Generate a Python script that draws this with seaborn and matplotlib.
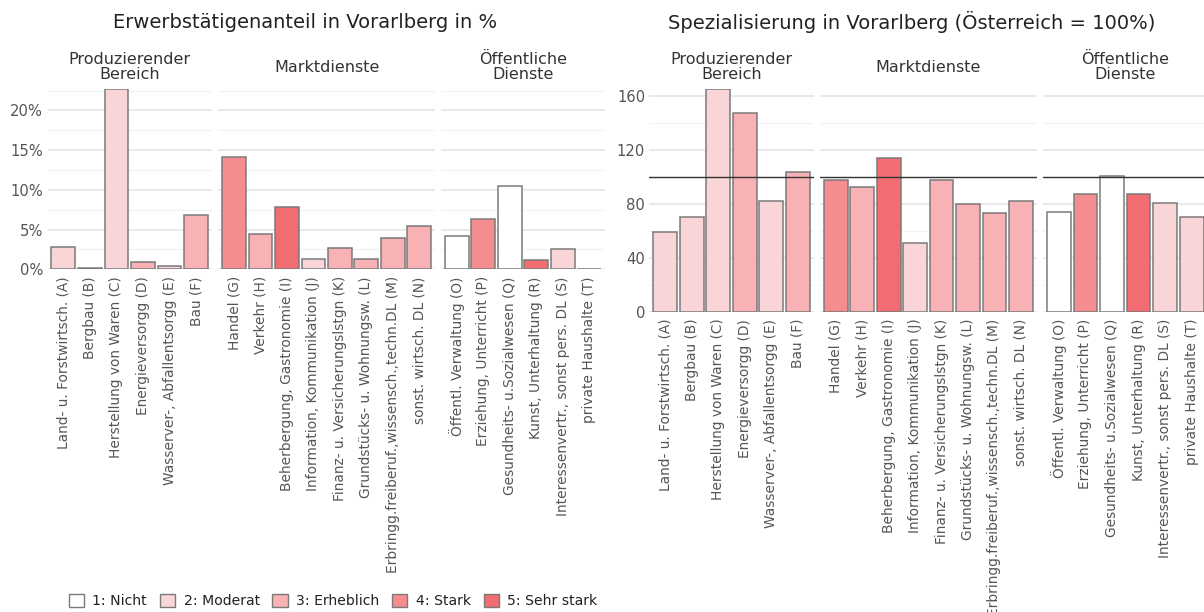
import matplotlib
matplotlib.use("Agg")
import matplotlib.pyplot as plt
import matplotlib.transforms as mtransforms
from matplotlib.ticker import MultipleLocator, FuncFormatter
from matplotlib.patches import Patch
import pandas as pd
import seaborn as sns

# Daten
BRANCHEN = [
    "Land- u. Forstwirtsch. (A)", "Bergbau (B)", "Herstellung von Waren (C)",
    "Energieversorgg (D)", "Wasserver-, Abfallentsorgg (E)", "Bau (F)",
    "Handel (G)", "Verkehr (H)", "Beherbergung, Gastronomie (I)",
    "Information, Kommunikation (J)", "Finanz- u. Versicherungslstgn (K)",
    "Grundstücks- u. Wohnungsw. (L)", "Erbringg.freiberuf.,wissensch.,techn.DL (M)",
    "sonst. wirtsch. DL (N)",
    "Öffentl. Verwaltung (O)", "Erziehung, Unterricht (P)",
    "Gesundheits- u.Sozialwesen (Q)", "Kunst, Unterhaltung (R)",
    "Interessenvertr., sonst pers. DL (S)", "private Haushalte (T)",
]
SEKTOR = (["Produzierender\nBereich"] * 6 + ["Marktdienste"] * 8
          + ["Öffentliche\nDienste"] * 6)
ANTEIL = [2.8, 0.13, 22.7, 0.9, 0.4, 6.8,
          14.2, 4.4, 7.9, 1.3, 2.7, 1.3, 4.0, 5.5,
          4.2, 6.3, 10.5, 1.2, 2.5, 0.1]
SPEZ = [58.9, 70.2, 165.2, 147.4, 82.3, 103.4,
        97.4, 92.2, 113.7, 50.9, 97.9, 79.6, 73.4, 82.1,
        73.7, 87.0, 100.6, 87.0, 80.4, 70.5]
KLASSE = ["2", "2", "2", "3", "2", "3",
          "4", "3", "5", "2", "3", "3", "3", "3",
          "1", "4", "1", "5", "2", "2"]
KLASSEN = ["1", "2", "3", "4", "5"]
KLASSEN_LABELS = ["1: Nicht", "2: Moderat", "3: Erheblich", "4: Stark", "5: Sehr stark"]
FARBEN = {"1": "#FFFFFF", "2": "#FAD5D8", "3": "#F8B1B4", "4": "#F58C8F", "5": "#F16D72"}
SEKTOREN = ["Produzierender\nBereich", "Marktdienste", "Öffentliche\nDienste"]

df = pd.DataFrame({"Branche": BRANCHEN, "Sektor": SEKTOR, "Anteil": ANTEIL,
                   "Spez": SPEZ, "Klasse": KLASSE})

sns.set_theme(style="white")
plt.rcParams["font.family"] = ["DejaVu Sans"]

W, H = 1204, 612
fig = plt.figure(figsize=(W / 100, H / 100), dpi=100)

TXT = "#555555"
EDGE = "#7A7A7A"


def px_axes(x0, ytop, w, ybot):
    return fig.add_axes([x0 / W, 1 - ybot / H, w / W, (ybot - ytop) / H])


def panel(col, x_starts, ytop, ybot, ymax, major, minor, fmt, refline=None):
    widths = [164.5, 216.7, 164.5]
    for i, (sektor, x0) in enumerate(zip(SEKTOREN, x_starts)):
        ax = px_axes(x0, ytop, widths[i], ybot)
        sub = df[df["Sektor"] == sektor]
        sns.barplot(data=sub, x="Branche", y=col, hue="Klasse", hue_order=KLASSEN,
                    palette=FARBEN, order=list(sub["Branche"]), dodge=False,
                    saturation=1, width=0.9, edgecolor=EDGE, linewidth=1.1,
                    legend=False, ax=ax)
        n = len(sub)
        ax.set_xlim(-0.6, n - 0.4)
        ax.set_ylim(0, ymax)
        ax.yaxis.set_major_locator(MultipleLocator(major))
        ax.yaxis.set_minor_locator(MultipleLocator(minor))
        ax.yaxis.set_major_formatter(FuncFormatter(fmt))
        ax.grid(which="major", axis="y", color="#E3E3E3", lw=1.1)
        ax.grid(which="minor", axis="y", color="#F2F2F2", lw=0.9)
        ax.set_axisbelow(True)
        if refline is not None:
            ax.axhline(refline, color="#333333", lw=1, zorder=5)
        for s in ax.spines.values():
            s.set_visible(False)
        ax.set_xlabel("")
        ax.set_ylabel("")
        ax.tick_params(axis="both", which="both", length=0, colors=TXT,
                       labelsize=9.9)
        ax.tick_params(axis="y", labelsize=10.6, pad=3)
        ax.tick_params(axis="x", pad=5)
        for lab in ax.get_xticklabels():
            lab.set_rotation(90)
        if i > 0:
            ax.set_yticklabels([])
        trans = mtransforms.blended_transform_factory(ax.transAxes, fig.transFigure)
        ax.text(0.5, 1 - 67 / H, sektor, transform=trans, ha="center", va="center",
                fontsize=11.5, color="#333333", linespacing=1.0)


panel("Anteil", [47.5, 218.3, 440.7], 89, 269.3, 22.7, 5, 2.5,
      lambda v, p: f"{v:.0f}%")
panel("Spez", [649.3, 820.0, 1043.0], 89, 311.7, 165.2, 40, 20,
      lambda v, p: f"{v:.0f}", refline=100)

fig.text(305 / W, 1 - 22 / H, "Erwerbstätigenanteil in Vorarlberg in %",
         ha="center", va="center", fontsize=14, color="#222222")
fig.text(912 / W, 1 - 22 / H, "Spezialisierung in Vorarlberg (Österreich = 100%)",
         ha="center", va="center", fontsize=14, color="#222222")

handles = [Patch(facecolor=FARBEN[k], edgecolor=EDGE, label=l)
           for k, l in zip(KLASSEN, KLASSEN_LABELS)]
fig.legend(handles=handles, loc="center left", bbox_to_anchor=(56 / W, 1 - 601 / H),
           ncol=5, frameon=False, fontsize=10.1, handlelength=1.1, handleheight=1.1,
           handletextpad=0.6, columnspacing=0.9, labelcolor="#222222")

fig.savefig("out.png", dpi=100)
